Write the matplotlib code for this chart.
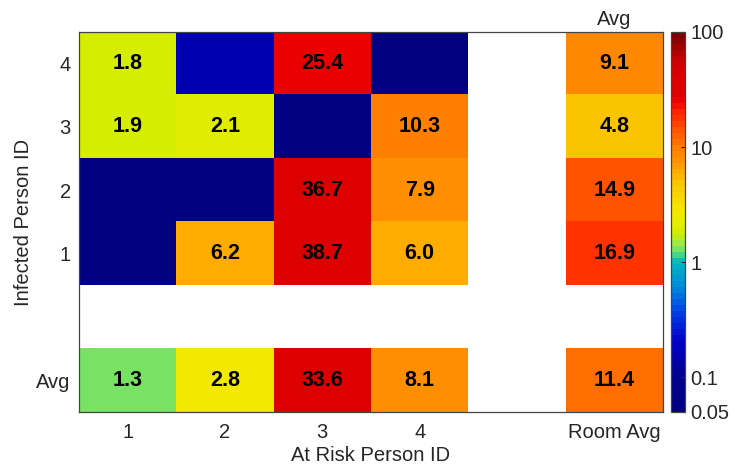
import numpy as np
import matplotlib
matplotlib.use('Agg')
import matplotlib.pyplot as plt
from matplotlib.colors import LinearSegmentedColormap, LogNorm

plt.rcParams['font.family'] = ['Liberation Sans', 'DejaVu Sans']

# Exposure matrix: rows = infected person (top to bottom), cols = at-risk person
row_labels = ['4', '3', '2', '1', '', 'Avg']
col_labels = ['1', '2', '3', '4', '', 'Room Avg']
row4 = [1.8, 0.15, 25.4, 0.0, np.nan, 9.1]
row3 = [1.9, 2.1, 0.0, 10.3, np.nan, 4.8]
row2 = [0.0, 0.0, 36.7, 7.9, np.nan, 14.9]
row1 = [0.0, 6.2, 38.7, 6.0, np.nan, 16.9]
gap_row = [np.nan] * 6
avg_row = [1.3, 2.8, 33.6, 8.1, np.nan, 11.4]

vmin, vmax = 0.05, 100
cbar_ticks = [0.05, 0.1, 1, 10, 100]
cbar_ticklabels = ['0.05', '0.1', '1', '10', '100']

# colormap anchors (value, rgb)
cmap_anchors = [
    (0.05, (0, 0, 128)), (0.1, (0, 0, 145)), (0.2, (0, 0, 200)),
    (0.35, (0, 60, 230)), (0.6, (0, 140, 220)), (1.0, (0, 185, 190)),
    (1.2, (90, 220, 120)), (1.4, (150, 233, 80)), (1.8, (210, 237, 0)),
    (2.2, (230, 237, 0)), (2.8, (245, 232, 0)), (4.8, (250, 200, 0)),
    (6.1, (255, 175, 0)), (8.0, (255, 143, 0)), (10, (255, 130, 0)),
    (11.4, (255, 110, 0)), (15, (255, 80, 0)), (17, (255, 60, 0)),
    (22, (255, 30, 0)), (25, (242, 0, 0)), (30, (222, 0, 0)),
    (45, (220, 0, 0)), (60, (200, 0, 0)), (100, (128, 0, 0)),
]

data = np.array([row4, row3, row2, row1, gap_row, avg_row])

lo, hi = np.log10(vmin), np.log10(vmax)
stops = [((np.log10(v) - lo) / (hi - lo), tuple(c / 255 for c in rgb))
         for v, rgb in cmap_anchors]
cmap = LinearSegmentedColormap.from_list('expo', stops).resampled(64)
cmap.set_bad('white')
norm = LogNorm(vmin=vmin, vmax=vmax)

fig = plt.figure(figsize=(7.3, 4.66), dpi=100)
ax = fig.add_axes([0.1082, 0.1159, 0.8, 0.8155])
cax = fig.add_axes([0.9192, 0.1159, 0.0192, 0.8155])

# values under the colour floor are shown at the floor
shown = np.where(np.isnan(data), np.nan, np.maximum(data, vmin))
im = ax.imshow(shown, cmap=cmap, norm=norm, aspect='auto',
               interpolation='nearest')

for i in range(data.shape[0]):
    for j in range(data.shape[1]):
        v = data[i, j]
        if not np.isnan(v) and v >= 1:
            ax.text(j, i, '%.1f' % v, ha='center', va='center',
                    fontsize=15.5, fontweight='bold', color='black')

ax.set_xticks(range(len(col_labels)))
ax.set_xticklabels(col_labels)
ax.set_yticks(range(len(row_labels)))
ax.set_yticklabels(row_labels)
ax.tick_params(length=0, labelsize=14.5, colors='#262626')
ax.tick_params(axis='x', pad=8)
ax.tick_params(axis='y', pad=6)
ax.set_xlabel('At Risk Person ID', fontsize=14.5, color='#262626', labelpad=3)
ax.set_ylabel('Infected Person ID', fontsize=14.5, color='#262626', labelpad=2)
ax.text(5, -0.55, 'Avg', ha='center', va='bottom', fontsize=14.5,
        color='#262626')
for s in ax.spines.values():
    s.set_color('#444444')
    s.set_linewidth(0.9)

cbar = fig.colorbar(im, cax=cax)
cbar.set_ticks(cbar_ticks)
cbar.set_ticklabels(cbar_ticklabels)
cbar.minorticks_off()
cax.tick_params(direction='in', length=3, labelsize=14.5, colors='#262626',
                pad=4)
cbar.outline.set_edgecolor('#444444')
cbar.outline.set_linewidth(0.9)

fig.savefig('out.png', dpi=100)
